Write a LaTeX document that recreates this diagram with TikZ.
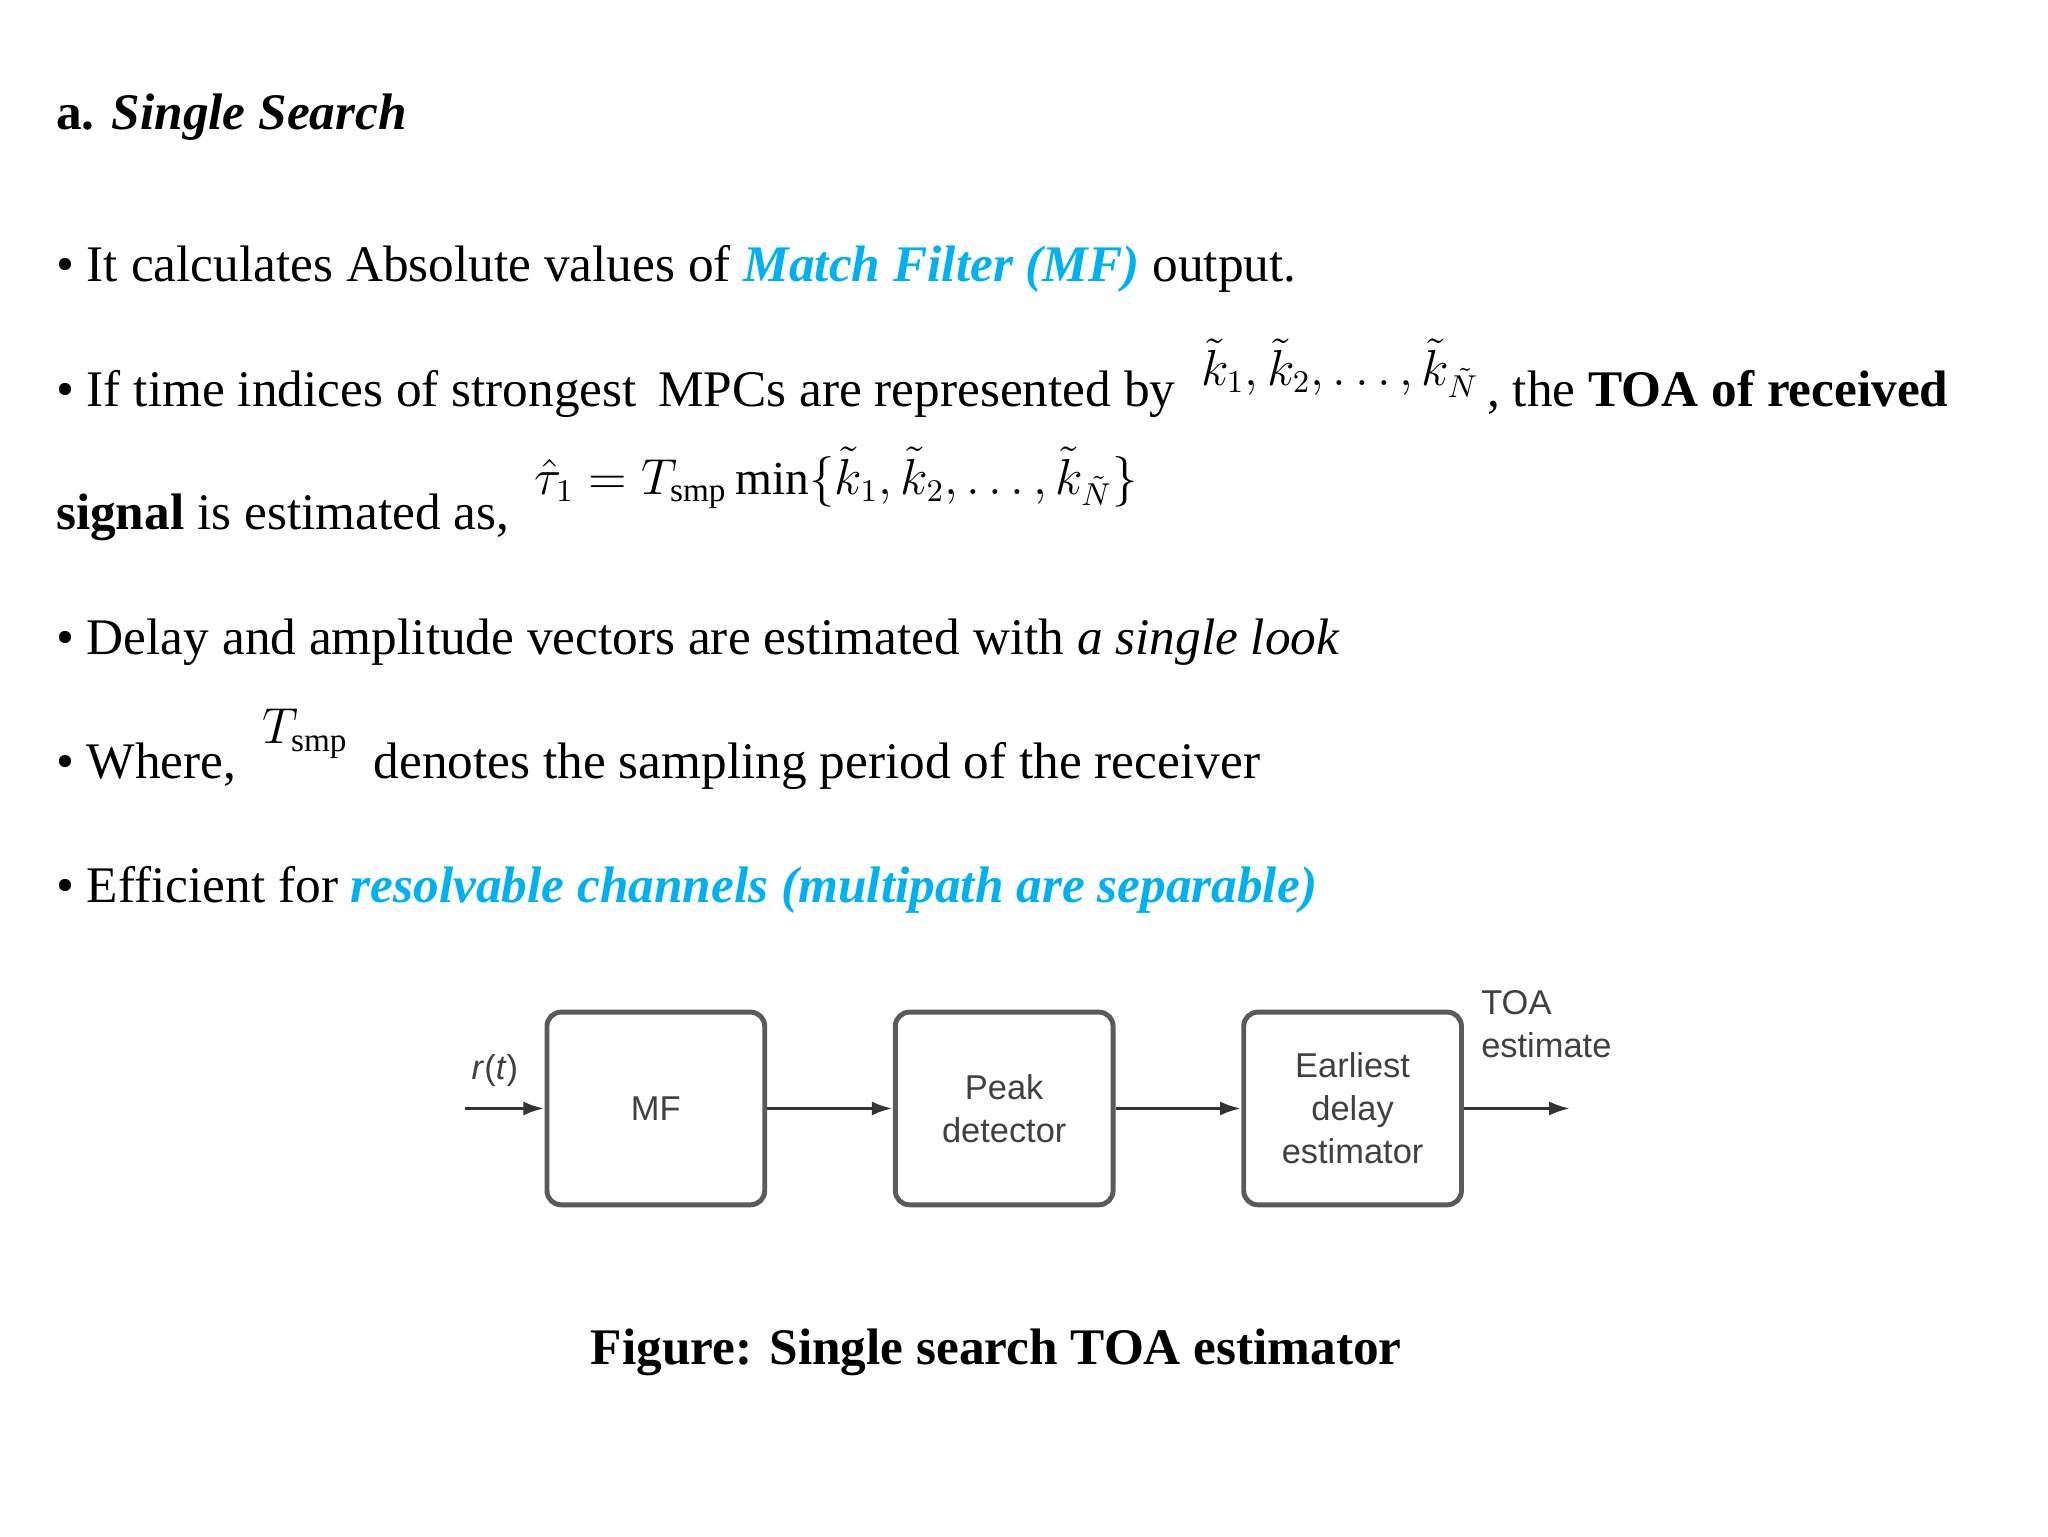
\documentclass[tikz,border=0pt]{standalone}
\usepackage{fontspec}
\setmainfont{Liberation Serif}
\newfontfamily\dsans{Liberation Sans}
\usetikzlibrary{arrows.meta}
\definecolor{cy}{RGB}{0,176,240}
\definecolor{bx}{RGB}{90,90,90}
\newcommand{\mth}[1]{{\fontsize{13.5}{16}\selectfont$#1$}}
\begin{document}
\begin{tikzpicture}[x=0.0132cm,y=-0.0132cm,
  txt/.style={anchor=base west,inner sep=0,font=\fontsize{14.6}{17}\selectfont},
  blk/.style={draw=bx,line width=1.4pt,rounded corners=4pt,minimum width=165*0.0132cm,minimum height=146*0.0132cm,align=center,font=\dsans\fontsize{9.8}{12.2}\selectfont,text=black!75},
  lab/.style={font=\dsans\fontsize{9.8}{12.2}\selectfont,text=black!75,inner sep=0},
  arr/.style={draw=black!80,line width=1pt,-{Latex[length=6pt,width=4pt]}}]
\useasboundingbox (0,0) rectangle (1552,1164);
\node[txt] (h) at (42,98) {\textbf{a.} \textbf{\textit{Single Search}}};
\node[txt] (b1) at (42,213) {\textbullet\ It calculates Absolute values of \textcolor{cy}{\textbf{\textit{Match Filter (MF)}}} output.};
\node[txt] (b2) at (42,308) {\textbullet\ If time indices of strongest\, MPCs are represented by\ \ \raisebox{6pt}{\mth{\tilde{k}_1,\tilde{k}_2,\ldots,\tilde{k}_{\tilde{N}}}}\,, the \textbf{TOA of received}};
\node[txt] (b2b) at (42,401) {\textbf{signal} is estimated as,\ \ \raisebox{10pt}{\mth{\hat{\tau}_1=T_{\mathrm{smp}}\min\{\tilde{k}_1,\tilde{k}_2,\ldots,\tilde{k}_{\tilde{N}}\}}}};
\node[txt] (b3) at (42,496) {\textbullet\ Delay and amplitude vectors are estimated with \textit{a single look}};
\node[txt] (b4) at (42,590) {\textbullet\ Where,\ \ \raisebox{10pt}{\mth{T_{\mathrm{smp}}}}\ \ denotes the sampling period of the receiver};
\node[txt] (b5) at (42,684) {\textbullet\ Efficient for \textcolor{cy}{\textbf{\textit{resolvable channels (multipath are separable)}}}};
\node[blk] (mf) at (497,840) {MF};
\node[blk] (pd) at (761,840) {Peak\\detector};
\node[blk] (ed) at (1025,840) {Earliest\\delay\\estimator};
\coordinate (in) at (352,840);
\coordinate (out) at (1190,840);
\node[lab] (r) at (375,811) {\textit{r}(\textit{t})};
\node[lab,align=left,anchor=north west] (toa) at (1122,750) {TOA\\estimate};
\draw[arr] (in) -- (mf);
\draw[arr] (mf) -- (pd);
\draw[arr] (pd) -- (ed);
\draw[arr] (ed) -- (out);
\node[font=\fontsize{14.6}{17}\selectfont\bfseries,inner sep=0] (cap) at (755,1025) {Figure: Single search TOA estimator};
\end{tikzpicture}
\end{document}
